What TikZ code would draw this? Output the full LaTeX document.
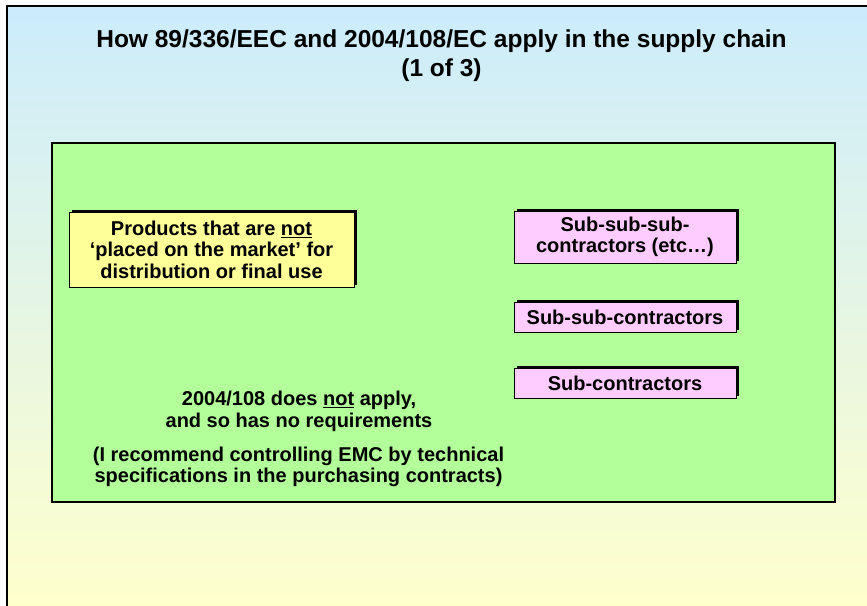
\documentclass[tikz,border=0pt]{standalone}
\usepackage{fontspec}
\setmainfont{Liberation Sans}
\usetikzlibrary{shadows}
\definecolor{bgtop}{RGB}{204,236,252}
\definecolor{bgbot}{RGB}{255,255,204}
\definecolor{panelgreen}{RGB}{179,255,153}
\definecolor{boxyellow}{RGB}{255,255,153}
\definecolor{boxpink}{RGB}{255,204,255}
\newcommand{\bodyfnt}{\fontsize{20}{21.5}\selectfont\bfseries}
\newcommand{\titlefnt}{\fontsize{24.5}{29}\selectfont\bfseries}
\begin{document}
\begin{tikzpicture}[x=1pt,y=-1pt,
  box/.style={draw=black, line width=0.8pt, inner sep=0pt, align=center, font=\bodyfnt,
    general shadow={fill=black, shadow xshift=2.5pt, shadow yshift=2.5pt}},
  ybox/.style={box, fill=boxyellow},
  pbox/.style={box, fill=boxpink, minimum width=222pt},
  txt/.style={inner sep=0pt, align=center, font=\bodyfnt}]
\useasboundingbox (0,0) rectangle (867,605);
\begin{scope}
  \clip (0,0) rectangle (867,605);
  \shade[top color=bgtop, bottom color=bgbot] (7,6) rectangle (870,610);
  \draw[line width=1.5pt] (7,612) -- (7,6) -- (872,6);
\end{scope}
\node[draw=black, line width=1.5pt, fill=panelgreen, minimum width=783pt, minimum height=359pt, inner sep=0pt] (panel) at (443.5,322.5) {};
\node[inner sep=0pt, align=center, font=\titlefnt] (title) at (441.5,56) {How 89/336/EEC and 2004/108/EC apply in the supply chain\\(1 of 3)};
\node[ybox, minimum width=285pt, minimum height=75pt] (market) at (211.5,249.5) {Products that are \underline{not}\\‘placed on the market’ for\\distribution or final use};
\node[pbox, minimum height=52pt] (subsubsub) at (625,237) {Sub-sub-sub-\\contractors (etc…)};
\node[pbox, minimum height=30pt] (subsub) at (625,317) {Sub-sub-contractors};
\node[pbox, minimum height=30pt] (sub) at (625,383) {Sub-contractors};
\node[txt] (noapply) at (299,411.5) {2004/108 does \underline{not} apply,\\and so has no requirements};
\node[txt] (recommend) at (298.5,467) {(I recommend controlling EMC by technical\\specifications in the purchasing contracts)};
\end{tikzpicture}
\end{document}
